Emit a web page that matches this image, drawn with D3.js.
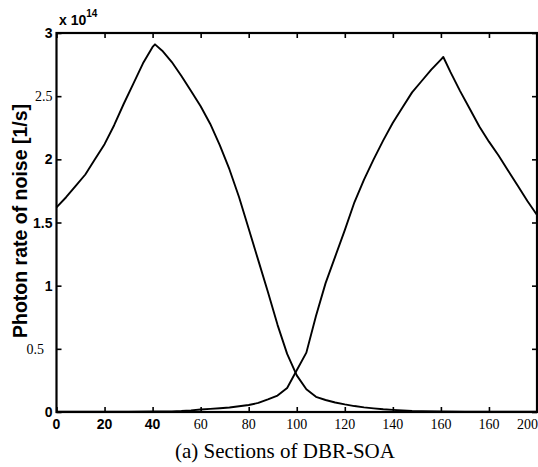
<!DOCTYPE html>
<html>
<head>
<meta charset="utf-8">
<script src="https://cdn.jsdelivr.net/npm/d3@7"></script>
<style>
  html, body { margin: 0; padding: 0; background: #fff; }
  svg { display: block; }
</style>
</head>
<body>
<svg id="chart" width="538" height="467"></svg>
<script>
// Noise photon rate along the DBR-SOA sections (units of 1e14 photons/s)
const sectionsA = [0, 4, 8, 12, 16, 20, 24, 28, 32, 36, 40, 41, 44, 48, 52, 56, 60, 64, 68, 72,
  76, 80, 84, 88, 92, 96, 100, 104, 108, 112, 116, 120, 124, 128, 132, 136, 140, 144, 148, 152,
  160, 170, 180, 190, 200];
const photonA = [1.62, 1.70, 1.79, 1.88, 2.00, 2.12, 2.27, 2.44, 2.60, 2.76, 2.89, 2.91, 2.86, 2.77,
  2.66, 2.54, 2.42, 2.28, 2.11, 1.92, 1.70, 1.45, 1.20, 0.95, 0.69, 0.46, 0.29, 0.18, 0.12, 0.095,
  0.075, 0.06, 0.047, 0.037, 0.029, 0.022, 0.017, 0.012, 0.008, 0.006, 0.004, 0.003, 0.003, 0.002, 0.002];

const sectionsB = [0, 10, 20, 30, 40, 48, 52, 56, 60, 64, 68, 72, 76, 80, 84, 88, 92, 96, 100, 104,
  108, 112, 116, 120, 124, 128, 132, 136, 140, 144, 148, 152, 156, 160, 161, 164, 168, 172, 176,
  180, 184, 188, 192, 196, 200];
const photonB = [0.002, 0.002, 0.003, 0.003, 0.004, 0.005, 0.008, 0.013, 0.02, 0.025, 0.03, 0.036,
  0.045, 0.055, 0.072, 0.10, 0.13, 0.19, 0.33, 0.47, 0.76, 1.02, 1.23, 1.44, 1.66, 1.84, 2.00, 2.15,
  2.29, 2.41, 2.53, 2.62, 2.71, 2.79, 2.81, 2.69, 2.54, 2.40, 2.26, 2.14, 2.03, 1.91, 1.79, 1.67, 1.56];

const xTickValues = [0, 20, 40, 60, 80, 100, 120, 140, 160, 180, 200];
const xTickLabels = ["0", "20", "40", "60", "80", "100", "120", "140", "160", "160", "200"];
const yTickValues = [0, 0.5, 1, 1.5, 2, 2.5, 3];
const yTickLabels = ["0", "0.5", "1", "1.5", "2", "2.5", "3"];

const yTitle = "Photon rate of noise [1/s]";
const xTitle = "(a) Sections of DBR-SOA";
const multiplierBase = "x 10";
const multiplierExp = "14";

// Layout
const W = 538;
const plot = { left: 56.5, right: 537, top: 33, bottom: 412 };
const sans = "'Liberation Sans', Arial, sans-serif";
const serif = "'Liberation Serif', 'Times New Roman', serif";
const boldX = new Set([0, 1, 2]);          // x labels printed in bold sans
const serifY = new Set(["0.5", "2.5"]);    // y labels printed in serif

const svg = d3.select("#chart");

const x = d3.scaleLinear().domain([0, 200]).range([plot.left, plot.right]);
const y = d3.scaleLinear().domain([0, 3]).range([plot.bottom, plot.top]);

// Inward ticks on all four sides (MATLAB-style box)
const tickLen = 5;
const g = svg.append("g");

const bottomAxis = d3.axisBottom(x).tickValues(xTickValues).tickSize(-tickLen).tickFormat("");
const topAxis = d3.axisTop(x).tickValues(xTickValues).tickSize(-tickLen).tickFormat("");
const leftAxis = d3.axisLeft(y).tickValues(yTickValues).tickSize(-tickLen).tickFormat("");
const rightAxis = d3.axisRight(y).tickValues(yTickValues).tickSize(-tickLen).tickFormat("");

g.append("g").attr("transform", `translate(0,${plot.bottom})`).call(bottomAxis);
g.append("g").attr("transform", `translate(0,${plot.top})`).call(topAxis);
g.append("g").attr("transform", `translate(${plot.left},0)`).call(leftAxis);
g.append("g").attr("transform", `translate(${plot.right},0)`).call(rightAxis);
g.selectAll(".domain").remove();
g.selectAll(".tick line").attr("stroke", "#000").attr("stroke-width", 1.6);

// Frame
svg.append("rect")
  .attr("x", plot.left).attr("y", plot.top)
  .attr("width", plot.right - plot.left).attr("height", plot.bottom - plot.top)
  .attr("fill", "none").attr("stroke", "#000").attr("stroke-width", 2.2);

// X tick labels (the last one is kept inside the page edge)
const lastX = xTickValues.length - 1;
svg.append("g").selectAll("text")
  .data(xTickValues)
  .join("text")
  .attr("x", (d, i) => i === lastX ? W : x(d))
  .attr("y", 429)
  .attr("text-anchor", (d, i) => i === lastX ? "end" : "middle")
  .attr("font-family", (d, i) => boldX.has(i) ? sans : serif)
  .attr("font-weight", (d, i) => boldX.has(i) ? "bold" : "normal")
  .attr("font-size", 14)
  .attr("fill", "#000")
  .text((d, i) => xTickLabels[i]);

// Y tick labels
svg.append("g").selectAll("text")
  .data(yTickValues)
  .join("text")
  .attr("x", (d, i) => yTickLabels[i] === "0.5" ? 44 : 52.5)
  .attr("y", d => y(d) + 5)
  .attr("text-anchor", "end")
  .attr("font-family", (d, i) => serifY.has(yTickLabels[i]) ? serif : sans)
  .attr("font-weight", (d, i) => serifY.has(yTickLabels[i]) ? "normal" : "bold")
  .attr("font-size", 14)
  .attr("fill", "#000")
  .text((d, i) => yTickLabels[i]);

// Exponent label above the y axis
const mult = svg.append("text")
  .attr("x", 59).attr("y", 25)
  .attr("font-family", sans).attr("font-weight", "bold")
  .attr("font-size", 14).attr("fill", "#000");
mult.append("tspan").text(multiplierBase);
mult.append("tspan").attr("dy", -8).attr("font-size", 10).text(multiplierExp);

// Axis titles
svg.append("text")
  .attr("transform", `translate(27,221) rotate(-90)`)
  .attr("text-anchor", "middle")
  .attr("font-family", sans).attr("font-weight", "bold")
  .attr("font-size", 19.5).attr("fill", "#000")
  .text(yTitle);

svg.append("text")
  .attr("x", 285).attr("y", 458)
  .attr("text-anchor", "middle")
  .attr("font-family", serif)
  .attr("font-size", 21).attr("fill", "#000")
  .text(xTitle);

// Curves
const line = d3.line().x(d => x(d[0])).y(d => y(d[1]));
const curveA = sectionsA.map((s, i) => [s, photonA[i]]);
const curveB = sectionsB.map((s, i) => [s, photonB[i]]);

svg.append("g").selectAll("path")
  .data([curveA, curveB])
  .join("path")
  .attr("d", line)
  .attr("fill", "none")
  .attr("stroke", "#000")
  .attr("stroke-width", 1.9)
  .attr("stroke-linejoin", "round");
</script>
</body>
</html>
